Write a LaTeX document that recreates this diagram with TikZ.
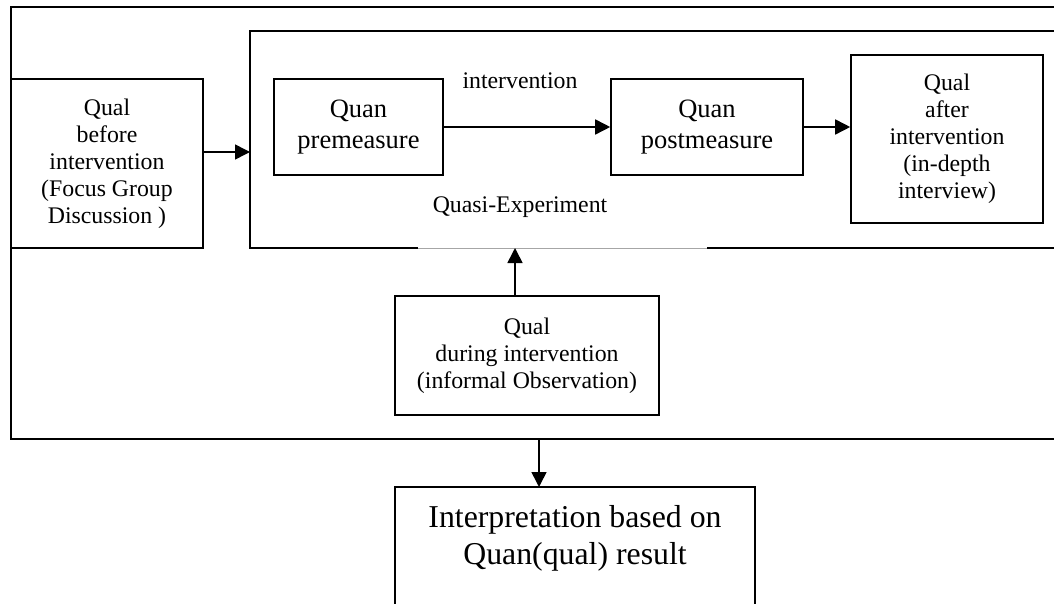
\documentclass[tikz,border=0pt]{standalone}
\usepackage{fontspec}
\setmainfont{Liberation Serif}
\usetikzlibrary{arrows.meta,calc}
\tikzset{
  box/.style={draw, line width=1.6pt, inner sep=0pt, align=center, anchor=center},
  smalltxt/.style={font=\fontsize{23.8}{27}\selectfont},
  midtxt/.style={font=\fontsize{26.5}{31}\selectfont},
  bigtxt/.style={font=\fontsize{31.8}{37}\selectfont},
  arr/.style={line width=1.6pt, -{Triangle[length=15pt,width=15pt]}},
  frame/.style={line width=1.8pt},
}
\begin{document}
\begin{tikzpicture}[x=1pt,y=-1pt]
\useasboundingbox (0,0) rectangle (1054,604);
% outer frame (open to the right)
\draw[frame] (1054,7) -- (11,7) -- (11,439) -- (1054,439);
% quasi-experiment frame (open to the right)
\draw[frame] (1054,31) -- (250,31) -- (250,248) -- (418,248);
\draw[line width=0.8pt, gray!70] (418,248) -- (707,248);
\draw[frame] (707,248) -- (1054,248);
\coordinate (qleft) at (250,152);
\coordinate (qbottom) at (515,248);
\coordinate (obottom) at (539,439);
% nodes
\node[box, smalltxt, minimum width=192pt, minimum height=169pt] (before) at (107,163.5)
  {Qual\\before\\intervention\\(Focus Group\\Discussion )};
\node[box, midtxt, minimum width=169pt, minimum height=96pt] (pre) at (358.5,127)
  {Quan\\premeasure};
\node[box, midtxt, minimum width=192pt, minimum height=96pt] (post) at (707,127)
  {Quan\\postmeasure};
\node[box, smalltxt, minimum width=192pt, minimum height=168pt] (after) at (947,139)
  {Qual\\after\\intervention\\(in-depth\\interview)};
\node[smalltxt] (intv) at (520,81) {intervention};
\node[smalltxt] (quasi) at (520,207) {Quasi-Experiment};
\node[box, smalltxt, minimum width=264pt, minimum height=119pt] (during) at (527,355.5)
  {Qual\\during intervention\\(informal Observation)};
\node[bigtxt, align=center] (interp) at (575,538) {Interpretation based on\\Quan(qual) result};
\coordinate (itl) at (395,487);
\coordinate (itr) at (755,487);
\draw[line width=1.6pt] (395,604) -- (itl) -- (itr) -- (755,604);
% connectors
\draw[arr] ([yshift=11.5pt]before.east) -- (qleft);
\draw[arr] (pre.east) -- (post.west);
\draw[arr] (post.east) -- (after.west |- post.east);
\draw[arr] (during.north -| qbottom) -- (qbottom);
\draw[arr] (obottom) -- (obottom |- itl);
\end{tikzpicture}
\end{document}
